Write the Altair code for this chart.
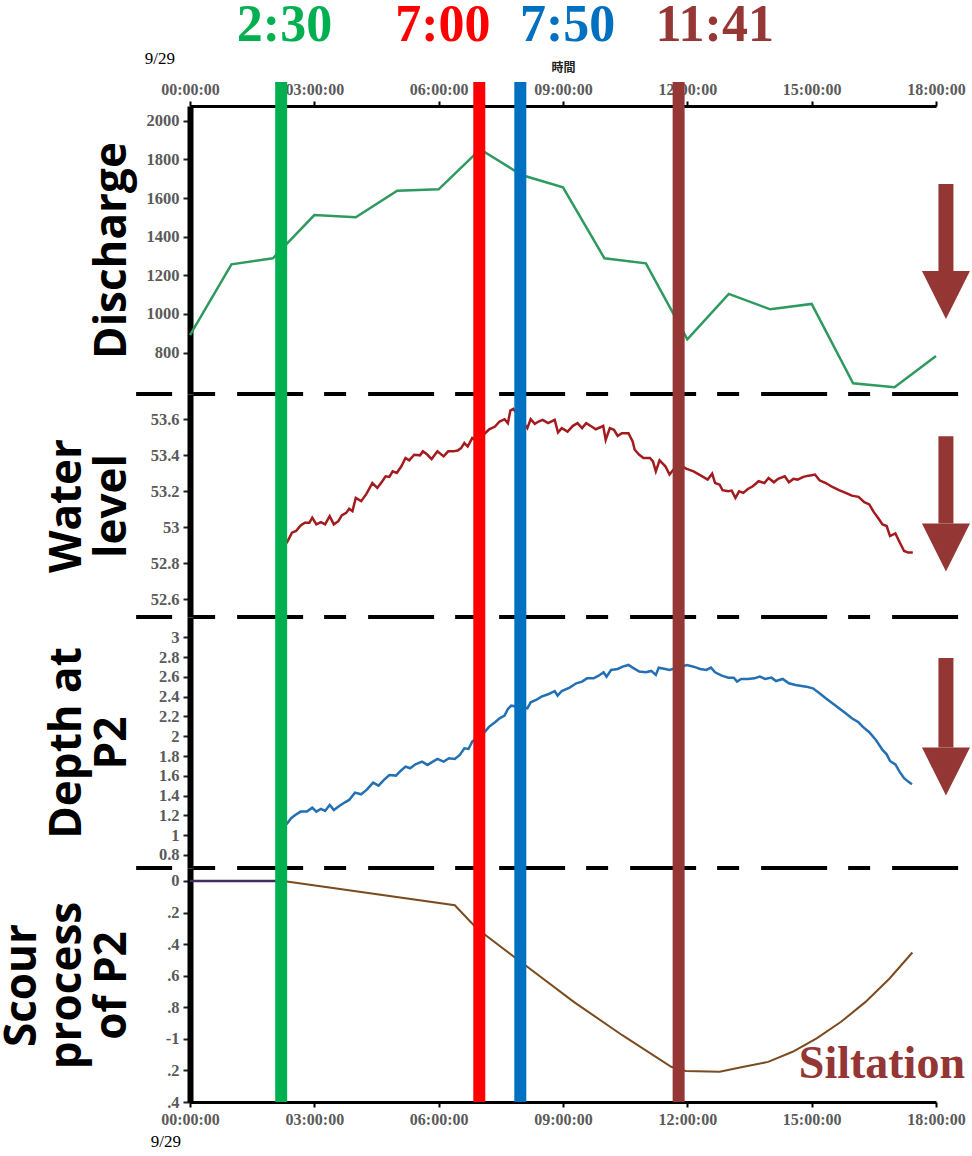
import json
import altair as alt
import pandas as pd

# ---------------- data ----------------
discharge_hours = [0, 1, 2, 3, 4, 5, 6, 7, 8, 9, 10, 11, 12, 13, 14, 15, 16, 17, 18]
discharge_values = [891, 1257, 1288, 1512, 1500, 1638, 1645, 1852, 1719, 1655,
                    1288, 1262, 869, 1104, 1024, 1052, 641, 621, 783]

wl_hours = [2.33, 2.46, 2.56, 2.67, 2.77, 2.88, 2.95, 3.05, 3.16, 3.26,
            3.37, 3.47, 3.58, 3.66, 3.77, 3.84, 3.92, 4.00, 4.13, 4.26,
            4.40, 4.52, 4.64, 4.72, 4.81, 4.89, 4.99, 5.10, 5.20, 5.29,
            5.41, 5.55, 5.62, 5.73, 5.83, 5.97, 6.12, 6.23, 6.35, 6.46,
            6.54, 6.62, 6.70, 6.81, 6.91, 7.12, 7.22, 7.36, 7.47, 7.59,
            7.67, 7.73, 7.80, 7.91, 8.14, 8.22, 8.32, 8.41, 8.51, 8.64,
            8.80, 8.88, 8.97, 9.11, 9.24, 9.35, 9.46, 9.56, 9.69, 9.79,
            9.90, 9.97, 10.03, 10.13, 10.23, 10.32, 10.42, 10.58, 10.68, 10.73,
            10.84, 10.94, 11.10, 11.17, 11.24, 11.33, 11.47, 11.57, 11.78, 11.97,
            12.15, 12.36, 12.49, 12.60, 12.67, 12.78, 12.85, 12.99, 13.07, 13.16,
            13.25, 13.35, 13.46, 13.58, 13.72, 13.86, 13.96, 14.09, 14.19, 14.35,
            14.45, 14.56, 14.66, 14.80, 14.93, 15.08, 15.19, 15.34, 15.50, 15.66,
            15.82, 15.97, 16.13, 16.27, 16.39, 16.50, 16.60, 16.71, 16.81, 16.89,
            17.02, 17.12, 17.23, 17.33, 17.44]
wl_values = [52.910, 52.969, 52.978, 53.009, 53.024, 53.024, 53.052, 53.015, 53.028, 53.015,
             53.061, 53.015, 53.033, 53.065, 53.079, 53.102, 53.089, 53.162, 53.144, 53.186,
             53.245, 53.218, 53.255, 53.282, 53.279, 53.310, 53.301, 53.338, 53.384, 53.371,
             53.402, 53.399, 53.421, 53.402, 53.378, 53.421, 53.393, 53.421, 53.421, 53.426,
             53.439, 53.467, 53.448, 53.495, 53.482, 53.522, 53.544, 53.559, 53.587, 53.600,
             53.578, 53.648, 53.657, 53.624, 53.550, 53.600, 53.574, 53.587, 53.596, 53.578,
             53.596, 53.526, 53.550, 53.531, 53.563, 53.578, 53.550, 53.578, 53.559, 53.544,
             53.555, 53.563, 53.485, 53.550, 53.541, 53.507, 53.522, 53.522, 53.476, 53.430,
             53.402, 53.384, 53.384, 53.365, 53.310, 53.371, 53.338, 53.292, 53.352, 53.325,
             53.310, 53.282, 53.264, 53.297, 53.245, 53.236, 53.205, 53.199, 53.203, 53.162,
             53.199, 53.190, 53.212, 53.227, 53.255, 53.245, 53.273, 53.249, 53.268, 53.282,
             53.249, 53.268, 53.264, 53.279, 53.286, 53.292, 53.260, 53.245, 53.223, 53.205,
             53.190, 53.175, 53.168, 53.138, 53.126, 53.083, 53.052, 53.015, 53.006, 52.950,
             52.965, 52.917, 52.867, 52.858, 52.858]

depth_hours = [2.33, 2.44, 2.54, 2.67, 2.82, 2.95, 3.05, 3.16, 3.26, 3.37,
               3.47, 3.61, 3.74, 3.84, 3.98, 4.13, 4.26, 4.42, 4.55, 4.68,
               4.81, 4.97, 5.08, 5.20, 5.31, 5.44, 5.60, 5.73, 5.83, 5.97,
               6.12, 6.25, 6.39, 6.51, 6.62, 6.72, 6.81, 7.12, 7.22, 7.36,
               7.47, 7.59, 7.67, 7.75, 8.14, 8.22, 8.35, 8.48, 8.64, 8.80,
               8.87, 8.97, 9.16, 9.32, 9.46, 9.58, 9.74, 9.86, 9.98, 10.05,
               10.16, 10.32, 10.44, 10.58, 10.68, 10.84, 11.00, 11.13, 11.24, 11.31,
               11.47, 11.57, 11.99, 12.15, 12.31, 12.46, 12.57, 12.67, 12.83, 12.99,
               13.12, 13.20, 13.30, 13.46, 13.62, 13.75, 13.88, 14.03, 14.14, 14.30,
               14.45, 14.61, 14.72, 14.87, 15.03, 15.19, 15.34, 15.50, 15.66, 15.82,
               15.97, 16.13, 16.23, 16.39, 16.55, 16.71, 16.81, 16.89, 17.02, 17.12,
               17.23, 17.33, 17.42]
depth_values = [1.110, 1.171, 1.204, 1.238, 1.238, 1.278, 1.238, 1.265, 1.245, 1.305,
                1.255, 1.298, 1.332, 1.356, 1.430, 1.413, 1.457, 1.531, 1.501, 1.558,
                1.608, 1.602, 1.649, 1.693, 1.676, 1.716, 1.743, 1.710, 1.736, 1.770,
                1.743, 1.777, 1.770, 1.811, 1.878, 1.871, 1.945, 2.046, 2.097, 2.141,
                2.181, 2.208, 2.275, 2.309, 2.282, 2.343, 2.366, 2.400, 2.424, 2.457,
                2.410, 2.457, 2.491, 2.535, 2.552, 2.585, 2.585, 2.612, 2.646, 2.602,
                2.670, 2.680, 2.703, 2.720, 2.693, 2.653, 2.646, 2.660, 2.619, 2.693,
                2.680, 2.670, 2.720, 2.703, 2.680, 2.670, 2.693, 2.646, 2.612, 2.592,
                2.592, 2.552, 2.579, 2.579, 2.585, 2.602, 2.579, 2.592, 2.558, 2.579,
                2.535, 2.518, 2.511, 2.501, 2.484, 2.434, 2.383, 2.333, 2.282, 2.232,
                2.181, 2.141, 2.097, 2.040, 1.962, 1.861, 1.817, 1.750, 1.716, 1.642,
                1.575, 1.541, 1.514]

scour_pre_hours = [0.0, 2.25]
scour_pre_values = [0.0, 0.0]
scour_hours = [2.25, 6.39, 6.92, 8.09, 9.26, 10.43, 11.61, 11.96, 12.78,
               13.36, 13.95, 14.54, 15.12, 15.71, 16.30, 16.88, 17.43]
scour_values = [0.0, -0.154, -0.301, -0.534, -0.766, -0.977, -1.177, -1.204, -1.209,
                -1.177, -1.146, -1.082, -0.997, -0.892, -0.766, -0.618, -0.453]

event_hours = [2.2, 6.98, 7.97, 11.79]
event_colors = ["#00b050", "#ff0000", "#0070c0", "#953735"]
event_labels = ["2:30", "7:00", "7:50", "11:41"]
event_label_hours = [2.28, 6.10, 9.11, 12.66]

x_tick_hours = [0, 3, 6, 9, 12, 15, 18]
q_ticks = [800, 1000, 1200, 1400, 1600, 1800, 2000]
wl_ticks = [52.6, 52.8, 53.0, 53.2, 53.4, 53.6]
depth_ticks = [0.8, 1.0, 1.2, 1.4, 1.6, 1.8, 2.0, 2.2, 2.4, 2.6, 2.8, 3.0]
scour_ticks = [0, -0.2, -0.4, -0.6, -0.8, -1.0, -1.2, -1.4]
scour_tick_labels = ["0", ".2", ".4", ".6", ".8", "-1", ".2", ".4"]

date_label = "9/29"
siltation_label = "Siltation"

# ---------------- styling ----------------
W = 746
SERIF = "Liberation Serif"
SANS = "Open Sans"
ARROW = "#943634"
TITLE_LINE = 45
XS = alt.Scale(domain=[0, 18], nice=False, zero=False)
XEXPR = "(datum.value < 10 ? '0' : '') + datum.value + ':00:00'"


def x_axis(orient, title=None):
    kw = dict(orient=orient, values=x_tick_hours, labelExpr=XEXPR, grid=False,
              labelFont=SERIF, labelFontSize=16, labelFontWeight="bold",
              labelColor="#5a5a5a", labelPadding=4, labelFlush=False,
              labelOverlap=False, domainColor="black", domainWidth=3,
              tickColor="black", tickWidth=2, tickSize=5, title=title)
    if title:
        kw.update(titleFont="Noto Sans CJK TC", titleFontSize=12,
                  titleFontWeight="bold", titleColor="#222", titlePadding=7)
    return alt.Axis(**kw)


def y_axis(title, values, fmt=None, expr=None):
    nlines = len(title) if isinstance(title, list) else 1
    kw = dict(title=title, values=values, orient="left", grid=False,
              domainColor="black", domainWidth=6, tickColor="#222", tickWidth=2,
              tickSize=7, labelFont=SERIF, labelFontSize=16.5, labelFontWeight="bold",
              labelColor="#5a5a5a", labelPadding=4, labelOverlap=False,
              labelFlush=False,
              titleFont=SANS, titleFontSize=44, titleFontWeight="bold",
              titleColor="black", titleLineHeight=TITLE_LINE, titleAngle=270,
              titleBaseline="bottom", titleAlign="center",
              titleX=-56 - (nlines - 1) * TITLE_LINE)
    if fmt:
        kw["format"] = fmt
    if expr:
        kw["labelExpr"] = expr
    return alt.Axis(**kw)


def panel(layers_spec, yscale, yaxis, xaxis, height):
    layers = []
    for df, mark, enc in layers_spec:
        e = dict(enc)
        e["x"] = alt.X("h:Q", scale=XS, axis=xaxis)
        if "v" in df.columns:
            e["y"] = alt.Y("v:Q", scale=yscale, axis=yaxis)
        if "v2" in df.columns:
            e["y2"] = alt.Y2("v2:Q")
        if "h2" in df.columns:
            e["x2"] = alt.X2("h2:Q")
        layers.append(mark(alt.Chart(df)).encode(**e))
    return alt.layer(*layers).properties(width=W, height=height)


def sep_df(v):
    return pd.DataFrame({"h": [-1.3], "h2": [18.8], "v": [v]})


def dashed(c):
    return c.mark_rule(color="black", strokeWidth=4, strokeDash=[66, 21, 22, 22],
                       strokeDashOffset=30)


def rules(c):
    return c.mark_rule(strokeWidth=12)


ev_color = alt.Color("c:N", scale=None)

head = lambda c: c.mark_point(shape="M-1,0L1,0L0,2Z", size=2304, filled=True,
                              color=ARROW, opacity=1, strokeWidth=0)
shaft = lambda c: c.mark_rule(color=ARROW, strokeWidth=15)

# ---- panel 1: discharge ----
Y1 = alt.Scale(domain=[586, 2076], nice=False, zero=False)
df_q = pd.DataFrame({"h": discharge_hours, "v": discharge_values})
df_ev1 = pd.DataFrame({"h": event_hours, "v": [586] * 4, "v2": [2200] * 4, "c": event_colors})
df_lab = pd.DataFrame({"h": event_label_hours, "v": [2495] * 4, "t": event_labels, "c": event_colors})
df_date1 = pd.DataFrame({"h": [-0.725], "v": [2319], "t": [date_label]})
df_a1 = pd.DataFrame({"h": [18.24], "v": [1673], "v2": [1222]})
df_h1 = pd.DataFrame({"h": [18.24], "v": [1222]})

p1 = panel([
    (df_q, lambda c: c.mark_line(color="#2f9a5e", strokeWidth=2.5), {}),
    (sep_df(586), dashed, {}),
    (df_ev1, rules, {"color": ev_color}),
    (df_lab, lambda c: c.mark_text(font=SERIF, fontSize=52, fontWeight="bold",
                                   baseline="middle", align="center"),
     {"text": "t:N", "color": ev_color}),
    (df_date1, lambda c: c.mark_text(font=SERIF, fontSize=17, color="black",
                                     baseline="middle", align="center"), {"text": "t:N"}),
    (df_a1, shaft, {}),
    (df_h1, head, {}),
], Y1, y_axis("Discharge", q_ticks, fmt="d"), x_axis("top", "時間"), 288)

# ---- panel 2: water level ----
Y2 = alt.Scale(domain=[52.5, 53.74], nice=False, zero=False)
df_wl = pd.DataFrame({"h": wl_hours, "v": wl_values})
df_ev = pd.DataFrame({"h": event_hours, "c": event_colors})
df_a2 = pd.DataFrame({"h": [18.24], "v": [53.505], "v2": [53.02]})
df_h2 = pd.DataFrame({"h": [18.24], "v": [53.02]})
p2 = panel([
    (df_wl, lambda c: c.mark_line(color="#a31a1f", strokeWidth=2.5), {}),
    (sep_df(52.5), dashed, {}),
    (df_ev, rules, {"color": ev_color}),
    (df_a2, shaft, {}),
    (df_h2, head, {}),
], Y2, y_axis(["Water", "level"], wl_ticks, fmt=".1~f"), None, 223)

# ---- panel 3: depth at P2 ----
Y3 = alt.Scale(domain=[0.668, 3.205], nice=False, zero=False)
df_d = pd.DataFrame({"h": depth_hours, "v": depth_values})
df_a3 = pd.DataFrame({"h": [18.24], "v": [2.79], "v2": [1.885]})
df_h3 = pd.DataFrame({"h": [18.24], "v": [1.885]})
p3 = panel([
    (df_d, lambda c: c.mark_line(color="#2370b3", strokeWidth=2.5), {}),
    (sep_df(0.668), dashed, {}),
    (df_ev, rules, {"color": ev_color}),
    (df_a3, shaft, {}),
    (df_h3, head, {}),
], Y3, y_axis(["Depth at", "P2"], depth_ticks, fmt=".1~f"), None, 251)

# ---- panel 4: scour process ----
Y4 = alt.Scale(domain=[-1.4, 0.082], nice=False, zero=False)
df_sp = pd.DataFrame({"h": scour_pre_hours, "v": scour_pre_values})
df_s = pd.DataFrame({"h": scour_hours, "v": scour_values})
df_silt = pd.DataFrame({"h": [14.69], "v": [-1.249], "t": [siltation_label]})
df_date2 = pd.DataFrame({"h": [-0.58], "v": [-1.653], "t": [date_label]})
scour_expr = json.dumps(scour_tick_labels) + "[round(-datum.value * 5)]"
p4 = panel([
    (df_sp, lambda c: c.mark_line(color="#3f2f5a", strokeWidth=2.5), {}),
    (df_s, lambda c: c.mark_line(color="#7b4b20", strokeWidth=2), {}),
    (df_ev, rules, {"color": ev_color}),
    (df_silt, lambda c: c.mark_text(font=SERIF, fontSize=46, fontWeight="bold",
                                    color=ARROW, baseline="alphabetic", align="left"),
     {"text": "t:N"}),
    (df_date2, lambda c: c.mark_text(font=SERIF, fontSize=17, color="black",
                                     baseline="middle", align="center"), {"text": "t:N"}),
], Y4, y_axis(["Scour", "process", "of  P2"], scour_ticks, expr=scour_expr),
    x_axis("bottom"), 234)

chart = alt.vconcat(p1, p2, p3, p4, spacing=0, bounds="flush").configure_view(
    strokeWidth=0
).properties(
    padding={"left": 0, "top": -1, "right": 0, "bottom": 0},
    background="white",
)

chart.save("out.html", embed_options={"renderer": "svg", "actions": False})
